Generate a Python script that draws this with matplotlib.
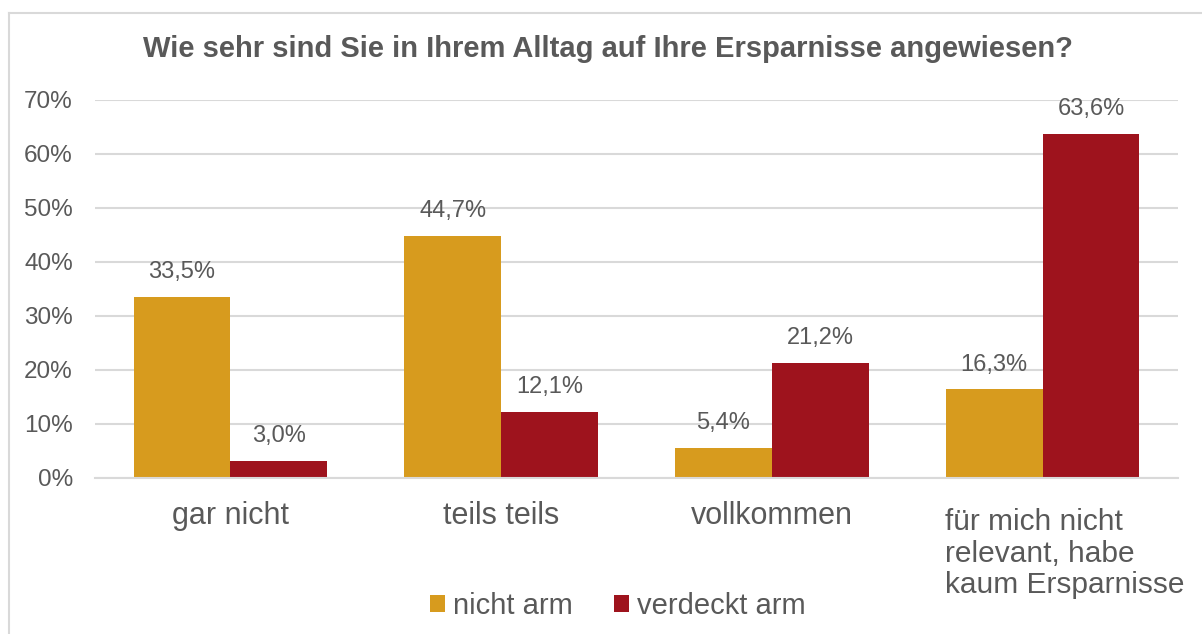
import numpy as np
import matplotlib.pyplot as plt
from matplotlib.lines import Line2D

plt.rcParams['font.family'] = ['Liberation Sans', 'DejaVu Sans']

categories = ['gar nicht', 'teils teils', 'vollkommen',
              'für mich nicht\nrelevant, habe\nkaum Ersparnisse']
nicht_arm = [33.5, 44.7, 5.4, 16.3]
verdeckt_arm = [3.0, 12.1, 21.2, 63.6]
series_names = ['nicht arm', 'verdeckt arm']

col_orange = '#D79B1E'
col_red = '#9E131D'
txt = '#595959'

W, H = 1202, 634
fig = plt.figure(figsize=(W / 100, H / 100), dpi=100)
ax = fig.add_axes([95 / W, (H - 477.5) / H, (1178 - 95) / W, (477.5 - 99.5) / H])

x = np.arange(len(categories))
bw = 0.357
b1 = ax.bar(x - bw / 2, nicht_arm, bw, color=col_orange, label=series_names[0], zorder=2)
b2 = ax.bar(x + bw / 2, verdeckt_arm, bw, color=col_red, label=series_names[1], zorder=2)

for bars, vals in [(b1, nicht_arm), (b2, verdeckt_arm)]:
    for b, v in zip(bars, vals):
        ax.annotate(f'{v:.1f}%'.replace('.', ','), (b.get_x() + b.get_width() / 2, v),
                    xytext=(0, 10), textcoords='offset points', ha='center', va='bottom',
                    fontsize=17, color=txt)

ax.set_xlim(-0.5, 3.5)
ax.set_ylim(0, 70)
ax.set_yticks(range(0, 71, 10))
ax.set_yticklabels([f'{t}%' for t in range(0, 71, 10)], fontsize=17.5, color=txt)
ax.yaxis.grid(True, color='#D9D9D9', linewidth=1.5, zorder=0)
ax.set_axisbelow(True)
ax.tick_params(axis='y', length=0, pad=16)
ax.tick_params(axis='x', length=0)
for s in ['top', 'right', 'left']:
    ax.spines[s].set_visible(False)
ax.spines['bottom'].set_color('#D9D9D9')
ax.spines['bottom'].set_linewidth(1.5)

ax.set_xticks(x[:3])
ax.set_xticklabels(categories[:3], fontsize=22, color=txt)
ax.tick_params(axis='x', pad=17)
ax.text(3.082, -5.7, categories[3], fontsize=21.5, color=txt, ha='center', va='top',
        multialignment='left', linespacing=1.15)

fig.text(608 / W, 1 - 49 / H, 'Wie sehr sind Sie in Ihrem Alltag auf Ihre Ersparnisse angewiesen?',
         fontsize=21, fontweight='bold', color=txt, ha='center', va='center')

leg = fig.legend(handles=[b1, b2], loc='center', bbox_to_anchor=(618 / W, 1 - 606 / H),
                 ncol=2, frameon=False, fontsize=21, handlelength=0.5, handleheight=0.5,
                 handletextpad=0.3, columnspacing=1.4, labelcolor=txt)

# outer chart frame (left and top edges visible)
fig.add_artist(Line2D([8.5 / W, 8.5 / W], [0, 1 - 12.5 / H], color='#D9D9D9', linewidth=1.5,
                      transform=fig.transFigure))
fig.add_artist(Line2D([8.5 / W, 1], [1 - 12.5 / H, 1 - 12.5 / H], color='#D9D9D9', linewidth=1.5,
                      transform=fig.transFigure))

fig.savefig('out.png', dpi=100, facecolor='white')
